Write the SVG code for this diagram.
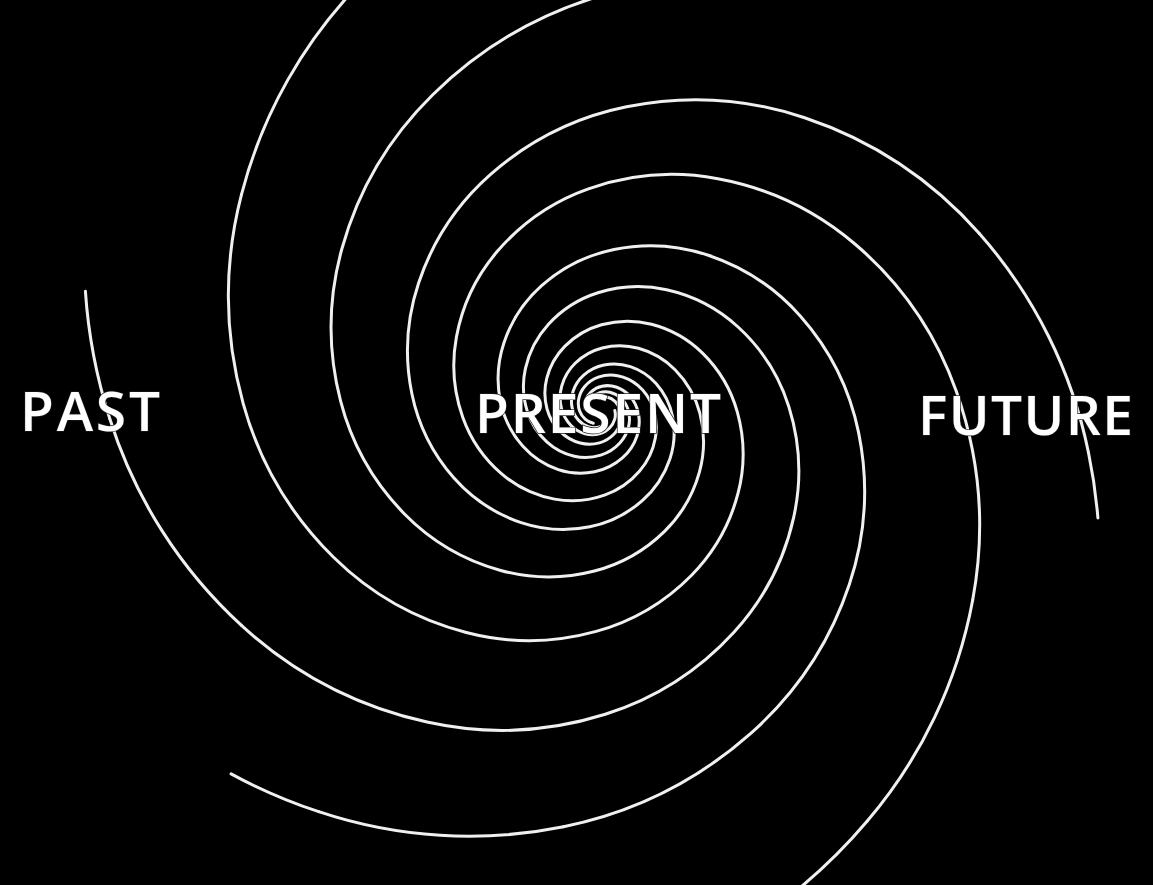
<svg xmlns="http://www.w3.org/2000/svg" xmlns:xlink="http://www.w3.org/1999/xlink" width="1153" height="885" viewBox="0 0 1153 885">
<style>
.arm{fill:none;stroke:#f0f0f0;stroke-width:3;stroke-linecap:round;stroke-linejoin:round}
.lbl{font-family:"Open Sans","Liberation Sans",sans-serif;font-size:55px;font-weight:600;fill:#ffffff;stroke:#1a1a1a;stroke-width:1.4;paint-order:stroke}
</style>
<defs>
<path id="core" d="M14.84 0 A16.79 16.79 0 0 1 15.06 8.70 A19.68 19.68 0 0 1 10.20 17.66 A23.07 23.07 0 0 1 0 23.91 A27.06 27.06 0 0 1 -14.01 24.27 A31.72 31.72 0 0 1 -28.46 16.43 A37.18 37.18 0 0 1 -38.52 0 A43.59 43.59 0 0 1 -39.11 -22.58 A51.10 51.10 0 0 1 -26.47 -45.85 A59.91 59.91 0 0 1 0 -62.06 A70.23 70.23 0 0 1 36.38 -63.01 A82.33 82.33 0 0 1 73.87 -42.65 A96.53 96.53 0 0 1 100 0 A113.16 113.16 0 0 1 101.52 58.62 A132.66 132.66 0 0 1 68.72 119.03 A155.53 155.53 0 0 1 0 161.12 A182.32 182.32 0 0 1 -94.44 163.58 A213.75 213.75 0 0 1 -191.77 110.72 A250.58 250.58 0 0 1 -259.60 0 A293.76 293.76 0 0 1 -263.57 -152.17 A344.39 344.39 0 0 1 -178.40 -308.99 A403.74 403.74 0 0 1 0 -418.29"/>
<path id="t30" d="M0 -418.29 A473.33 473.33 0 0 1 245.19 -424.67"/>
</defs>
<rect width="1153" height="885" fill="#000"/>
<g id="spiral" class="arm">
<g id="arm1" transform="translate(600 410) rotate(-121)"><use href="#core" xlink:href="#core"/><use href="#t30" xlink:href="#t30"/><path d="M245.19 -424.67 A532 532 0 0 1 366.9 -379.9"/></g>
<g id="arm2" transform="translate(600 410) rotate(-175)"><use href="#core" xlink:href="#core"/><use href="#t30" xlink:href="#t30"/><path d="M245.19 -424.67 A527 527 0 0 1 335.8 -394.6"/></g>
<g id="arm3" transform="translate(600 410) rotate(-59)"><use href="#core" xlink:href="#core"/><use href="#t30" xlink:href="#t30"/></g>
<g id="arm4" transform="translate(600 410) rotate(2)"><use href="#core" xlink:href="#core"/></g>
<g id="arm5" transform="translate(600 410) rotate(65)"><use href="#core" xlink:href="#core"/><use href="#t30" xlink:href="#t30"/><path d="M245.19 -424.67 A522 522 0 0 1 308.3 -405.6"/></g>
<g id="arm6" transform="translate(600 410) rotate(117)"><use href="#core" xlink:href="#core"/><use href="#t30" xlink:href="#t30"/><path d="M245.19 -424.67 A537.5 537.5 0 0 1 400.9 -361.0"/></g>
</g>
<g id="labels">
<text id="past" class="lbl" x="20" y="431" textLength="140" lengthAdjust="spacing">PAST</text>
<text id="present" class="lbl" x="475" y="433" textLength="246" lengthAdjust="spacing">PRESENT</text>
<text id="future" class="lbl" x="918" y="435" textLength="215" lengthAdjust="spacing">FUTURE</text>
</g>
</svg>
